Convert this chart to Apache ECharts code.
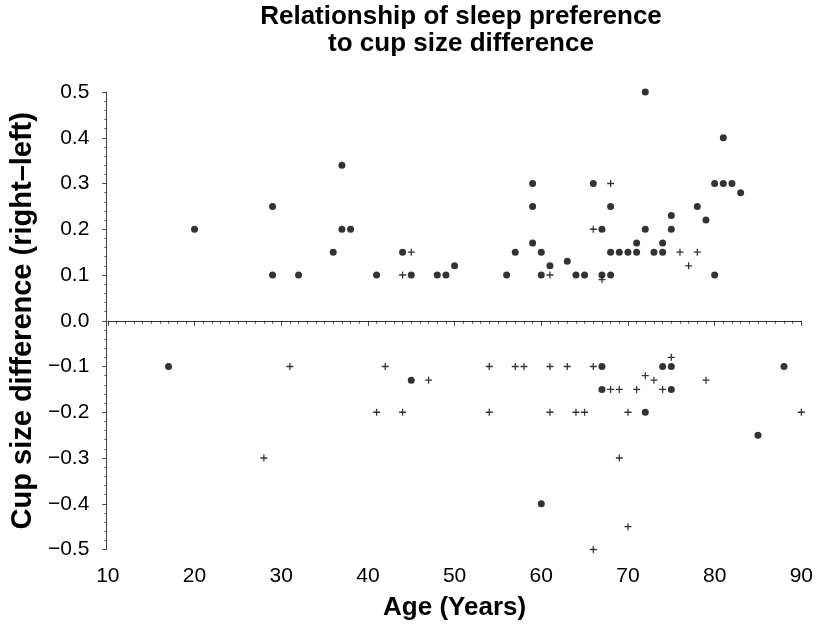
<!DOCTYPE html>
<html>
<head>
<meta charset="utf-8">
<script src="https://cdn.jsdelivr.net/npm/echarts@6/dist/echarts.min.js"></script>
<style>html,body{margin:0;padding:0;background:#fff}#c{width:816px;height:626px}</style>
</head>
<body>
<div id="c"></div>
<script>
// Filled-circle group: [age, difference]
const dotAges = [20,29,29,32,36,37,37,38,41,44,45,48,49,50,56,57,59,59,59,60,60,61,63,64,65,66,67,67,68,68,68,69,70,71,71,72,72,73,74,74,75,75,78,79,80,80,81,81,82,83,
  17,45,60,67,67,72,74,75,75,85,88];
const dotDiffs = [0.2,0.25,0.1,0.1,0.15,0.34,0.2,0.2,0.1,0.15,0.1,0.1,0.1,0.12,0.1,0.15,0.3,0.25,0.17,0.15,0.1,0.12,0.13,0.1,0.1,0.3,0.2,0.1,0.25,0.15,0.1,0.15,0.15,0.15,0.17,0.5,0.2,0.15,0.15,0.17,0.2,0.23,0.25,0.22,0.3,0.1,0.3,0.4,0.3,0.28,
  -0.1,-0.13,-0.4,-0.1,-0.15,-0.2,-0.1,-0.1,-0.15,-0.25,-0.1];
// Plus-sign group: [age, difference]
const plusAges = [44,45,61,66,67,68,76,77,78,
  28,31,41,42,44,47,54,54,57,58,61,61,63,64,65,66,66,68,69,69,70,70,71,72,73,74,75,79,90];
const plusDiffs = [0.1,0.15,0.1,0.2,0.09,0.3,0.15,0.12,0.15,
  -0.3,-0.1,-0.2,-0.1,-0.2,-0.13,-0.1,-0.2,-0.1,-0.1,-0.1,-0.2,-0.1,-0.2,-0.2,-0.1,-0.5,-0.15,-0.15,-0.3,-0.2,-0.45,-0.15,-0.12,-0.13,-0.15,-0.08,-0.13,-0.2];

const titleText = 'Relationship of sleep preference\nto cup size difference';
const xName = 'Age (Years)';
const yName = 'Cup size difference (right\u2013left)';

const dotData = dotAges.map((a, i) => [a, dotDiffs[i]]);
const plusData = plusAges.map((a, i) => [a, plusDiffs[i]]);

const plusPath = 'path://M0.41,0H0.59V0.41H1V0.59H0.59V1H0.41V0.59H0V0.41H0.41Z';
const FONT = 'Liberation Sans, Arial, sans-serif';

const chart = echarts.init(document.getElementById('c'), null, {renderer: 'canvas'});
chart.setOption({
  animation: false,
  backgroundColor: '#fff',
  title: {
    text: titleText,
    left: 456,
    top: -2,
    textAlign: 'center',
    textStyle: {fontFamily: FONT, fontSize: 26, fontWeight: 'bold', color: '#000', lineHeight: 27}
  },
  grid: {left: 107, right: 10, top: 92, bottom: 76.5, containLabel: false},
  xAxis: {
    type: 'value', min: 10, max: 90, interval: 10,
    offset: 3.5,
    name: xName, nameLocation: 'middle', nameGap: 42,
    nameTextStyle: {fontFamily: FONT, fontSize: 26, fontWeight: 'bold', color: '#000'},
    axisLine: {show: true, lineStyle: {color: '#444', width: 1}},
    axisTick: {show: true, length: 5, lineStyle: {color: '#444'}},
    minorTick: {show: true, splitNumber: 10, length: 3, lineStyle: {color: '#555'}},
    axisLabel: {fontFamily: FONT, fontSize: 21, color: '#000', margin: 13},
    splitLine: {show: false}
  },
  yAxis: {
    type: 'value', min: -0.5, max: 0.5, interval: 0.1,
    offset: 1.5,
    name: yName, nameLocation: 'middle', nameGap: 63,
    nameTextStyle: {fontFamily: FONT, fontSize: 29, fontWeight: 'bold', color: '#000'},
    axisLine: {show: true, lineStyle: {color: '#444', width: 1}},
    axisTick: {show: true, length: 4, lineStyle: {color: '#444'}},
    minorTick: {show: true, splitNumber: 5, length: 2, lineStyle: {color: '#555'}},
    axisLabel: {
      fontFamily: FONT, fontSize: 21, color: '#000', margin: 17,
      formatter: v => { const s = Math.abs(v) < 1e-9 ? '0.0' : v.toFixed(1); return s.replace('-', '\u2212'); }
    },
    splitLine: {show: false}
  },
  series: [
    {
      name: 'Dots', type: 'scatter', data: dotData,
      symbol: 'circle', symbolSize: 7,
      itemStyle: {color: '#000'},
      markLine: {
        silent: true, symbol: 'none', label: {show: false},
        lineStyle: {color: '#333', width: 1, type: 'solid'},
        data: [{yAxis: 0}]
      }
    },
    {
      name: 'Plus', type: 'scatter', data: plusData,
      symbol: plusPath, symbolSize: 7,
      itemStyle: {color: '#000'}
    }
  ]
});
</script>
</body>
</html>
